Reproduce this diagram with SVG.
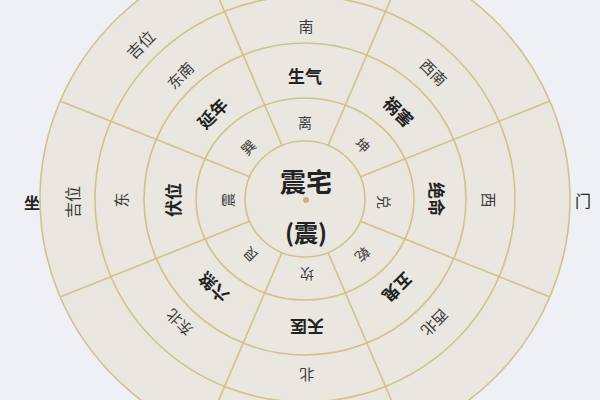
<svg xmlns="http://www.w3.org/2000/svg" width="600" height="400" viewBox="0 0 600 400">
<style>
text{font-family:"Noto Sans CJK SC","Noto Sans",sans-serif;text-anchor:middle;dominant-baseline:central;fill:#333}
.ring{fill:none;stroke:#d3c08a;stroke-width:1.6}
.outer{fill:#e9e7e0;stroke:#d3c08a;stroke-width:1.6}
.div{stroke:#d3c08a;stroke-width:1.6}
.dir{font-size:15px;fill:#3a3a3a}
.star{font-size:17px;font-weight:bold;fill:#222}
.tri{font-size:14px;fill:#3a3a3a}
.ji{font-size:16px;fill:#3a3a3a}
.side{font-size:16px;font-weight:bold;fill:#222}
.center{font-size:26px;font-weight:bold;fill:#222}
</style>
<rect width="600" height="400" fill="#eef0f5"/>
<g id="rings">
<ellipse cx="305" cy="199" rx="265" ry="256" class="outer"/>
<ellipse cx="305" cy="199" rx="210" ry="203" class="ring"/>
<ellipse cx="305" cy="199" rx="161" ry="156" class="ring"/>
<ellipse cx="305" cy="199" rx="109" ry="101" class="ring"/>
<ellipse cx="305" cy="199" rx="60" ry="58" class="ring"/>
</g>
<g id="connectors">
<line class="div" x1="360.4" y1="221.2" x2="549.8" y2="296.9"/>
<line class="div" x1="328.0" y1="252.5" x2="406.4" y2="435.3"/>
<line class="div" x1="282.0" y1="252.5" x2="203.6" y2="435.3"/>
<line class="div" x1="249.6" y1="221.2" x2="60.2" y2="296.9"/>
<line class="div" x1="249.6" y1="176.8" x2="60.2" y2="101.1"/>
<line class="div" x1="282.0" y1="145.5" x2="203.6" y2="-37.3"/>
<line class="div" x1="328.0" y1="145.5" x2="406.4" y2="-37.3"/>
<line class="div" x1="360.4" y1="176.8" x2="549.8" y2="101.1"/>
</g>
<g id="center">
<circle cx="306" cy="200" r="3" fill="#c9b47c"/>
<text class="center" x="306" y="180">震宅</text>
<text class="center" x="306" y="231" style="font-size:24px">(震)</text>
</g>
<g id="directions">
<text class="dir" transform="translate(306,25)">南</text>
<text class="dir" transform="translate(434,72) rotate(45)">西南</text>
<text class="dir" transform="translate(489,200) rotate(90)">西</text>
<text class="dir" transform="translate(435,323) rotate(135)">西北</text>
<text class="dir" transform="translate(307,375) rotate(180)">北</text>
<text class="dir" transform="translate(179,323) rotate(-135)">东北</text>
<text class="dir" transform="translate(120,200) rotate(-90)">东</text>
<text class="dir" transform="translate(180,75) rotate(-45)">东南</text>
</g>
<g id="stars">
<text class="star" transform="translate(305,75)">生气</text>
<text class="star" transform="translate(399,111) rotate(45)">祸害</text>
<text class="star" transform="translate(437,199) rotate(90)">绝命</text>
<text class="star" transform="translate(398,288) rotate(135)">五鬼</text>
<text class="star" transform="translate(307,327) rotate(180)">天医</text>
<text class="star" transform="translate(213,288) rotate(-135)">六煞</text>
<text class="star" transform="translate(172,200) rotate(-90)">伏位</text>
<text class="star" transform="translate(212,113) rotate(-45)">延年</text>
</g>
<g id="trigrams">
<text class="tri" transform="translate(305,122)">离</text>
<text class="tri" transform="translate(363,145) rotate(45)">坤</text>
<text class="tri" transform="translate(385,202) rotate(90)">兑</text>
<text class="tri" transform="translate(363,255) rotate(135)">乾</text>
<text class="tri" transform="translate(307,275) rotate(180)">坎</text>
<text class="tri" transform="translate(250,255) rotate(-135)">艮</text>
<text class="tri" transform="translate(227,200) rotate(-90)">震</text>
<text class="tri" transform="translate(248,147) rotate(-45)">巽</text>
</g>
<g id="lucky">
<text class="ji" transform="translate(72,202) rotate(-90)">吉位</text>
<text class="ji" transform="translate(140,44) rotate(-45)">吉位</text>
</g>
<g id="sides">
<text class="side" x="32" y="202">坐</text>
<text class="side" x="583" y="200" style="font-weight:normal">门</text>
</g>
</svg>
